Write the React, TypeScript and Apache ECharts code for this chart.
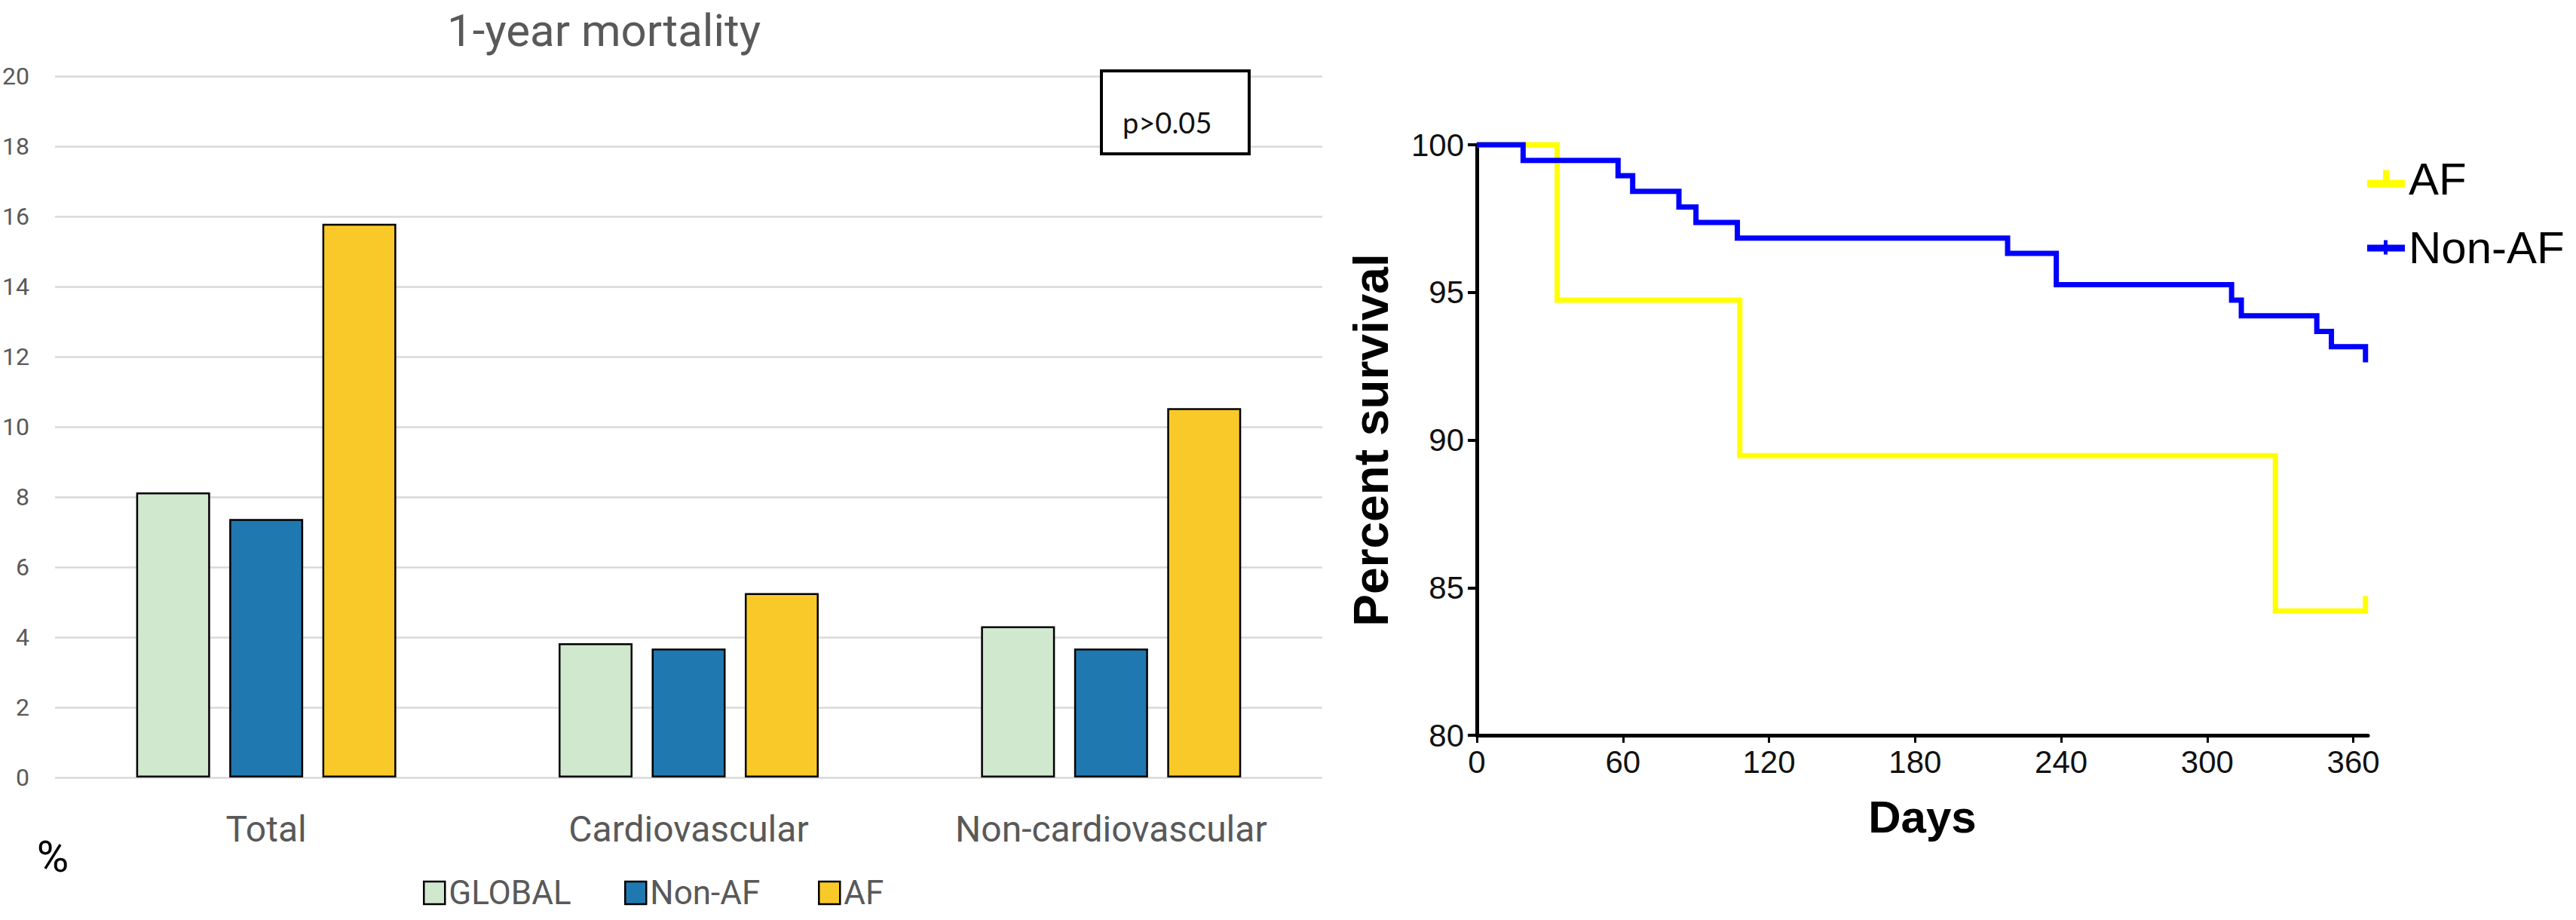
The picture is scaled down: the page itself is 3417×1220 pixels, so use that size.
import React, { useEffect, useRef } from 'react';
import * as echarts from 'echarts';

// ---- Left chart: 1-year mortality (%) ----
const categories = ['Total', 'Cardiovascular', 'Non-cardiovascular'];
const globalMortality = [8.13, 3.83, 4.31];
const nonAfMortality = [7.37, 3.68, 3.68];
const afMortality = [15.79, 5.26, 10.53];
const pValueText = 'p>0.05';

// ---- Right chart: Kaplan-Meier survival ----
const dayTicks = [0, 60, 120, 180, 240, 300, 360];
const afDays = [0, 33, 108, 328, 365, 365];
const afSurvival = [100, 94.74, 89.47, 84.21, 84.21, 84.71];
const nonAfDays = [0, 19, 58, 64, 83, 90, 107, 218, 238, 310, 314, 345, 351, 365];
const nonAfSurvival = [100, 99.47, 98.95, 98.42, 97.89, 97.37, 96.84, 96.32, 95.26, 94.74, 94.21, 93.68, 93.16, 92.63];

const GREEN = '#D0E8CE';
const BLUE_BAR = '#2078B0';
const GOLD = '#F9C929';
const KM_YELLOW = '#FFFF00';
const KM_BLUE = '#0000FF';

const AF_ICON = 'path://M0,13L50,13L50,23L0,23Z M21,0L29,0L29,13L21,13Z';
const NONAF_ICON = 'path://M0,6L50,6L50,15L0,15Z M22,0L27,0L27,19L22,19Z';

function zip(xs: number[], ys: number[]) {
  return xs.map((x, i) => [x, ys[i]]);
}

function barLegend(name: string, left: number) {
  return {
    data: [name],
    left,
    top: 1162,
    itemWidth: 28,
    itemHeight: 30,
    icon: 'rect',
    selectedMode: false,
    padding: 0,
    itemStyle: { borderColor: '#000', borderWidth: 2.5 },
    textStyle: { fontFamily: 'Roboto', fontSize: 44, color: '#595959' },
  };
}

function leftOption(): any {
  const barBase = {
    type: 'bar',
    barWidth: 98,
    barGap: '26%',
    itemStyle: { borderColor: '#000', borderWidth: 2.5 },
  };
  return {
    animation: false,
    title: {
      text: '1-year mortality',
      left: 801,
      top: 10,
      textAlign: 'center',
      padding: 0,
      textStyle: { fontFamily: 'Roboto', fontSize: 60, fontWeight: 'normal', color: '#595959' },
    },
    grid: { left: 72, right: 6, top: 101, bottom: 189 },
    xAxis: {
      type: 'category',
      data: categories,
      axisLine: { show: false },
      axisTick: { show: false },
      axisLabel: { fontFamily: 'Roboto', fontSize: 48, color: '#595959', margin: 44 },
    },
    yAxis: {
      type: 'value',
      min: 0,
      max: 20,
      interval: 2,
      axisLine: { show: false },
      axisTick: { show: false },
      axisLabel: { fontFamily: 'Roboto', fontSize: 32, color: '#595959', margin: 34 },
      splitLine: { lineStyle: { color: '#d9d9d9', width: 2.5 } },
    },
    legend: [barLegend('GLOBAL', 561), barLegend('Non-AF', 828), barLegend('AF', 1085)],
    series: [
      { ...barBase, name: 'GLOBAL', data: globalMortality, itemStyle: { ...barBase.itemStyle, color: GREEN } },
      { ...barBase, name: 'Non-AF', data: nonAfMortality, itemStyle: { ...barBase.itemStyle, color: BLUE_BAR } },
      { ...barBase, name: 'AF', data: afMortality, itemStyle: { ...barBase.itemStyle, color: GOLD } },
    ],
    graphic: [
      {
        type: 'rect',
        shape: { x: 1461, y: 94, width: 196, height: 110 },
        style: { fill: '#fff', stroke: '#000', lineWidth: 4 },
        z: 10,
      },
      {
        type: 'text',
        x: 1489,
        y: 162,
        style: { text: pValueText, fontFamily: 'Lato', fontSize: 38, fill: '#111', verticalAlign: 'middle' },
        z: 11,
      },
      {
        type: 'text',
        x: 70,
        y: 1136,
        style: { text: '%', fontFamily: 'Roboto', fontSize: 58, fill: '#000', align: 'center', verticalAlign: 'middle' },
        z: 11,
      },
    ],
  };
}

function rightOption(): any {
  const axisFont = { fontFamily: 'Liberation Sans', fontSize: 42, color: '#111' };
  const nameFont = { fontFamily: 'Liberation Sans', fontWeight: 'bold', color: '#000' };
  return {
    animation: false,
    grid: { left: 199, right: 276, top: 192, bottom: 245 },
    xAxis: {
      type: 'value',
      min: 0,
      max: 366,
      name: 'Days',
      nameLocation: 'middle',
      nameGap: 78,
      nameTextStyle: { ...nameFont, fontSize: 60 },
      axisLine: { show: true, lineStyle: { color: '#000', width: 5 } },
      axisTick: { show: true, length: 10, customValues: dayTicks, lineStyle: { color: '#000', width: 3 } },
      axisLabel: { ...axisFont, margin: 14, customValues: dayTicks },
      splitLine: { show: false },
    },
    yAxis: {
      type: 'value',
      min: 80,
      max: 100,
      interval: 5,
      name: 'Percent survival',
      nameLocation: 'middle',
      nameRotate: 90,
      nameGap: 108,
      nameTextStyle: { ...nameFont, fontSize: 64 },
      axisLine: { show: true, lineStyle: { color: '#000', width: 5 } },
      axisTick: { show: true, length: 12, lineStyle: { color: '#000', width: 4 } },
      axisLabel: { ...axisFont, margin: 17 },
      splitLine: { show: false },
    },
    legend: [
      {
        data: [{ name: 'AF', icon: AF_ICON }],
        left: 1375,
        top: 202,
        itemWidth: 50,
        itemHeight: 23,
        selectedMode: false,
        itemStyle: { borderWidth: 0 },
        textStyle: { fontFamily: 'Liberation Sans', fontSize: 60, color: '#000' },
      },
      {
        data: [{ name: 'Non-AF', icon: NONAF_ICON }],
        left: 1375,
        top: 293,
        itemWidth: 50,
        itemHeight: 19,
        selectedMode: false,
        itemStyle: { borderWidth: 0 },
        textStyle: { fontFamily: 'Liberation Sans', fontSize: 60, color: '#000' },
      },
    ],
    series: [
      {
        name: 'AF',
        type: 'line',
        step: 'end',
        symbol: 'none',
        clip: false,
        z: 2,
        data: zip(afDays, afSurvival),
        itemStyle: { color: KM_YELLOW },
        lineStyle: { color: KM_YELLOW, width: 7, cap: 'butt', join: 'miter' },
      },
      {
        name: 'Non-AF',
        type: 'line',
        step: 'end',
        symbol: 'none',
        clip: false,
        z: 3,
        data: zip(nonAfDays, nonAfSurvival),
        itemStyle: { color: KM_BLUE },
        lineStyle: { color: KM_BLUE, width: 7, cap: 'butt', join: 'miter' },
      },
    ],
  };
}

export default function App() {
  const leftRef = useRef<HTMLDivElement>(null);
  const rightRef = useRef<HTMLDivElement>(null);

  useEffect(() => {
    document.body.style.margin = '0';
    document.body.style.overflow = 'hidden';
    const left = echarts.init(leftRef.current!, undefined, { renderer: 'svg' });
    const right = echarts.init(rightRef.current!, undefined, { renderer: 'svg' });
    left.setOption(leftOption());
    right.setOption(rightOption());
    return () => {
      left.dispose();
      right.dispose();
    };
  }, []);

  return (
    <div style={{ position: 'relative', width: 3417, height: 1220, background: '#fff', overflow: 'hidden' }}>
      <div ref={leftRef} style={{ position: 'absolute', left: 0, top: 0, width: 1760, height: 1220 }} />
      <div ref={rightRef} style={{ position: 'absolute', left: 1760, top: 0, width: 1657, height: 1220 }} />
    </div>
  );
}
